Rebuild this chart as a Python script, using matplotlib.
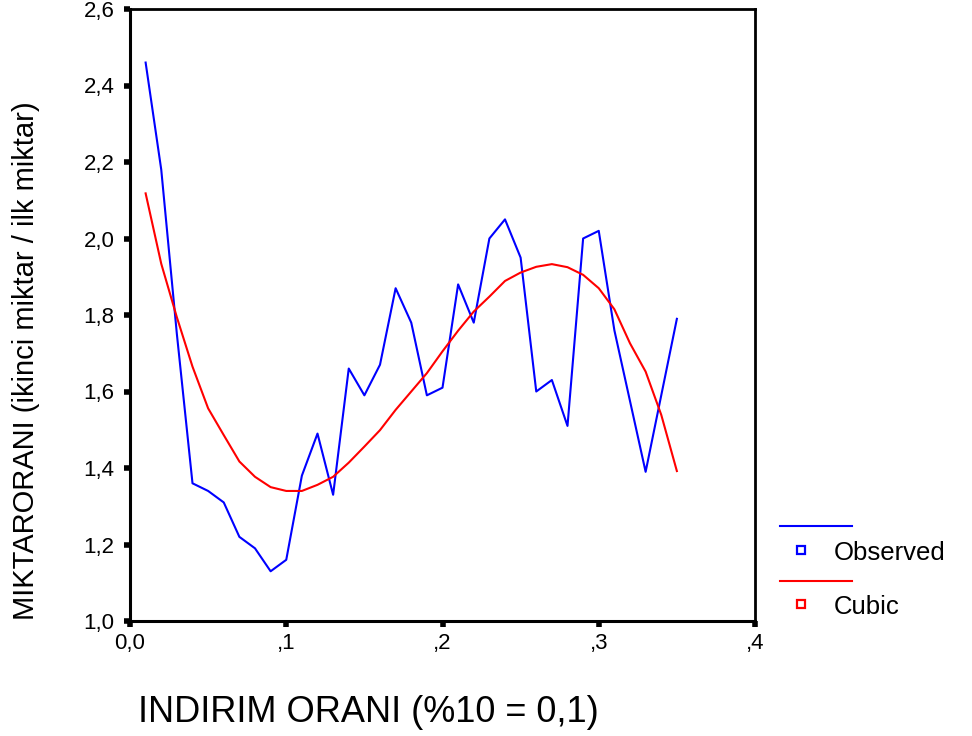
import matplotlib
matplotlib.use("Agg")
import matplotlib.pyplot as plt
from matplotlib.lines import Line2D

plt.rcParams['font.family'] = ['Liberation Sans', 'DejaVu Sans']

x_vals = [0.01, 0.02, 0.03, 0.04, 0.05, 0.06, 0.07, 0.08, 0.09, 0.10,
          0.11, 0.12, 0.13, 0.14, 0.15, 0.16, 0.17, 0.18, 0.19, 0.20,
          0.21, 0.22, 0.23, 0.24, 0.25, 0.26, 0.27, 0.28, 0.29, 0.30,
          0.31, 0.32, 0.33, 0.34, 0.35]
observed = [2.46, 2.18, 1.75, 1.36, 1.34, 1.31, 1.22, 1.19, 1.13, 1.16,
            1.38, 1.49, 1.33, 1.66, 1.59, 1.67, 1.87, 1.78, 1.59, 1.61,
            1.88, 1.78, 2.00, 2.05, 1.95, 1.60, 1.63, 1.51, 2.00, 2.02,
            1.76, 1.575, 1.39, 1.59, 1.79]
cubic = [2.118, 1.934, 1.794, 1.665, 1.556, 1.486, 1.417, 1.377, 1.350, 1.340,
         1.340, 1.356, 1.377, 1.414, 1.456, 1.499, 1.552, 1.600, 1.648, 1.705,
         1.759, 1.809, 1.848, 1.889, 1.911, 1.926, 1.933, 1.925, 1.905, 1.870,
         1.815, 1.726, 1.652, 1.539, 1.392]

x_ticks = [0.0, 0.1, 0.2, 0.3, 0.4]
x_tick_labels = ["0,0", ",1", ",2", ",3", ",4"]
y_ticks = [1.0, 1.2, 1.4, 1.6, 1.8, 2.0, 2.2, 2.4, 2.6]
y_tick_labels = ["1,0", "1,2", "1,4", "1,6", "1,8", "2,0", "2,2", "2,4", "2,6"]
series_names = ["Observed", "Cubic"]
series_colors = ["#0000ff", "#ff0000"]

W, H = 972, 736
fig = plt.figure(figsize=(W / 100, H / 100), dpi=100)
ax = fig.add_axes([130 / W, 1 - 621 / H, (755 - 130) / W, (621 - 9) / H])

ax.plot(x_vals, observed, color=series_colors[0], lw=1.5)
ax.plot(x_vals, cubic, color=series_colors[1], lw=1.5)

ax.set_xlim(0.0, 0.4)
ax.set_ylim(1.0, 2.6)
ax.set_xticks(x_ticks)
ax.set_xticklabels(x_tick_labels)
ax.set_yticks(y_ticks)
ax.set_yticklabels(y_tick_labels)
ax.tick_params(axis='both', direction='out', length=4, width=4, labelsize=16, colors='black')
ax.tick_params(axis='y', pad=7)
ax.tick_params(axis='x', pad=5)
for s in ['left', 'bottom']:
    ax.spines[s].set_linewidth(2.2)
for s in ['top', 'right']:
    ax.spines[s].set_linewidth(2.0)

def fx(px):
    return px / W

def fy(py):
    return 1 - py / H

fig.text(fx(368), fy(713), "INDIRIM ORANI (%10 = 0,1)", fontsize=26,
         ha='center', va='center')
fig.text(fx(26), fy(361), "MIKTARORANI (ikinci miktar / ilk miktar)", fontsize=21,
         ha='center', va='center', rotation=90)

# SPSS-style legend drawn in figure pixel coordinates
rows = [(526, 553), (581, 607)]
for (ly, ty), name, col in zip(rows, series_names, series_colors):
    fig.add_artist(Line2D([fx(780), fx(852)], [fy(ly), fy(ly)], color=col, lw=1.5,
                          transform=fig.transFigure))
    fig.add_artist(Line2D([fx(801)], [fy(ty - 3)], marker='s', markersize=6,
                          markerfacecolor='white', markeredgecolor=col, markeredgewidth=1.6,
                          linestyle='none', transform=fig.transFigure))
    fig.text(fx(834), fy(ty), name, fontsize=18.5, va='center', ha='left')

fig.savefig("out.png", dpi=100)
